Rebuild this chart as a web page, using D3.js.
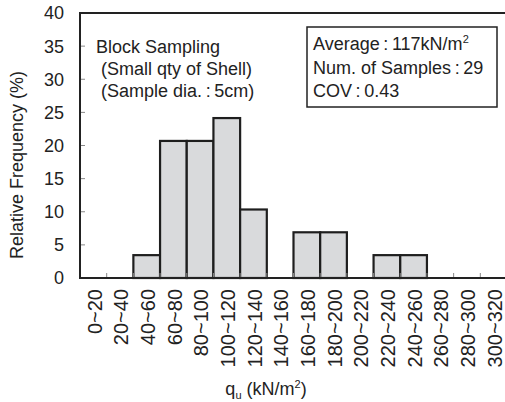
<!DOCTYPE html>
<html>
<head>
<meta charset="utf-8">
<script src="https://cdn.jsdelivr.net/npm/d3@7"></script>
<style>
  html, body { margin: 0; padding: 0; background: #fff; }
  svg text { font-family: "Liberation Sans", Arial, sans-serif; fill: #222; }
</style>
</head>
<body>
<div id="chart"></div>
<script>
// Histogram of unconfined compressive strength q_u (block sampling)
const binLabels = ["0~20","20~40","40~60","60~80","80~100","100~120","120~140","140~160",
                   "160~180","180~200","200~220","220~240","240~260","260~280","280~300","300~320"];
const relFrequency = [0, 0, 3.45, 20.69, 20.69, 24.14, 10.34, 0, 6.9, 6.9, 0, 3.45, 3.45, 0, 0, 0];
const yTicks = [0, 5, 10, 15, 20, 25, 30, 35, 40];
const noteLines = ["Block Sampling", " (Small qty of Shell)", " (Sample dia.\u2009:\u20095cm)"];

const W = 505, H = 402;
const plotL = 80, plotR = 507, plotT = 13, plotB = 278;

const svg = d3.select("#chart").append("svg")
  .attr("width", W).attr("height", H);

const x = d3.scaleBand().domain(binLabels).range([plotL, plotR]).padding(0);
const y = d3.scaleLinear().domain([0, 40]).range([plotB, plotT]);

// bars
svg.append("g").selectAll("rect")
  .data(binLabels.map((b, i) => ({ b, v: relFrequency[i] })).filter(d => d.v > 0))
  .join("rect")
  .attr("x", d => x(d.b))
  .attr("y", d => y(d.v))
  .attr("width", x.bandwidth())
  .attr("height", d => y(0) - y(d.v))
  .attr("fill", "#d9dadc")
  .attr("stroke", "#1e1e1e")
  .attr("stroke-width", 2.2);

// inner tick marks on y axis
svg.append("g").selectAll("line")
  .data(yTicks.filter(t => t > 0 && t < 40))
  .join("line")
  .attr("x1", plotL).attr("x2", plotL + 5)
  .attr("y1", d => y(d)).attr("y2", d => y(d))
  .attr("stroke", "#888").attr("stroke-width", 1);

// inner tick marks on x axis at bin boundaries
svg.append("g").selectAll("line")
  .data(binLabels.slice(1))
  .join("line")
  .attr("x1", d => x(d)).attr("x2", d => x(d))
  .attr("y1", plotB).attr("y2", plotB - 5)
  .attr("stroke", "#888").attr("stroke-width", 1);

// frame: top, left, bottom
svg.append("path")
  .attr("d", `M${plotR},${plotT}H${plotL}V${plotB}H${plotR}`)
  .attr("fill", "none").attr("stroke", "#222").attr("stroke-width", 2);

// y tick labels
svg.append("g").selectAll("text")
  .data(yTicks)
  .join("text")
  .attr("x", 64).attr("y", d => y(d))
  .attr("dy", "0.36em")
  .attr("text-anchor", "end")
  .attr("font-size", 18)
  .text(d => d);

// x tick labels (vertical)
svg.append("g").selectAll("text")
  .data(binLabels)
  .join("text")
  .attr("transform", d => `translate(${x(d) + x.bandwidth() / 2 + 1},289) rotate(-90)`)
  .attr("dy", "0.36em")
  .attr("text-anchor", "end")
  .attr("font-size", 20)
  .text(d => d);

// y axis title
svg.append("text")
  .attr("transform", "translate(17,165) rotate(-90)")
  .attr("dy", "0.36em")
  .attr("text-anchor", "middle")
  .attr("font-size", 18)
  .text("Relative Frequency (%)");

// x axis title
const xt = svg.append("text")
  .attr("x", 266).attr("y", 395)
  .attr("text-anchor", "middle")
  .attr("font-size", 18);
xt.append("tspan").text("q");
xt.append("tspan").attr("font-size", 11).attr("dy", 4).text("u");
xt.append("tspan").attr("dy", -4).text(" (kN/m");
xt.append("tspan").attr("font-size", 11).attr("dy", -7).text("2");
xt.append("tspan").attr("dy", 7).text(")");

// sampling note
svg.append("g").selectAll("text")
  .data(noteLines)
  .join("text")
  .attr("x", 96).attr("y", (d, i) => 53 + i * 21.75)
  .attr("font-size", 18)
  .attr("xml:space", "preserve")
  .style("white-space", "pre")
  .text(d => d);

// statistics box
svg.append("rect")
  .attr("x", 307).attr("y", 27).attr("width", 190).attr("height", 80)
  .attr("fill", "#fff").attr("stroke", "#222").attr("stroke-width", 1.5);

const s1 = svg.append("text").attr("x", 313).attr("y", 50).attr("font-size", 18);
s1.append("tspan").text("Average\u2009:\u2009117kN/m");
s1.append("tspan").attr("font-size", 11).attr("dy", -7).text("2");
svg.append("text").attr("x", 313).attr("y", 73.5).attr("font-size", 18).text("Num. of Samples\u2009:\u200929");
svg.append("text").attr("x", 313).attr("y", 97).attr("font-size", 18).text("COV\u2009:\u20090.43");
</script>
</body>
</html>
